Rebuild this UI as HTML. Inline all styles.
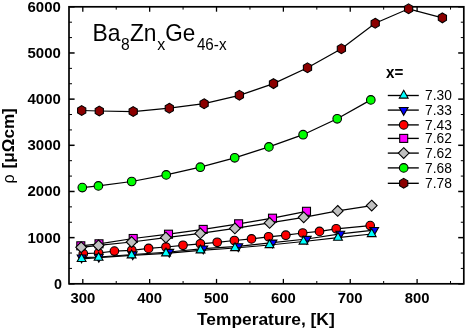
<!DOCTYPE html>
<html lang="en"><head><meta charset="utf-8"><title>Resistivity chart</title>
<style>html,body{margin:0;padding:0;background:#fff;}svg{display:block;}</style>
</head><body>
<svg width="466" height="330" viewBox="0 0 466 330" style="font-family:&quot;Liberation Sans&quot;,Arial,sans-serif">
<rect width="466" height="330" fill="#fff"/>
<g><line x1="69.0" y1="283.80" x2="74.6" y2="283.80" stroke="#000" stroke-width="1.5"/>
<line x1="463.8" y1="283.80" x2="458.2" y2="283.80" stroke="#000" stroke-width="1.5"/>
<line x1="69.0" y1="268.41" x2="72.0" y2="268.41" stroke="#000" stroke-width="1.0"/>
<line x1="463.8" y1="268.41" x2="460.8" y2="268.41" stroke="#000" stroke-width="1.0"/>
<line x1="69.0" y1="253.02" x2="72.0" y2="253.02" stroke="#000" stroke-width="1.0"/>
<line x1="463.8" y1="253.02" x2="460.8" y2="253.02" stroke="#000" stroke-width="1.0"/>
<line x1="69.0" y1="237.63" x2="74.6" y2="237.63" stroke="#000" stroke-width="1.5"/>
<line x1="463.8" y1="237.63" x2="458.2" y2="237.63" stroke="#000" stroke-width="1.5"/>
<line x1="69.0" y1="222.24" x2="72.0" y2="222.24" stroke="#000" stroke-width="1.0"/>
<line x1="463.8" y1="222.24" x2="460.8" y2="222.24" stroke="#000" stroke-width="1.0"/>
<line x1="69.0" y1="206.86" x2="72.0" y2="206.86" stroke="#000" stroke-width="1.0"/>
<line x1="463.8" y1="206.86" x2="460.8" y2="206.86" stroke="#000" stroke-width="1.0"/>
<line x1="69.0" y1="191.47" x2="74.6" y2="191.47" stroke="#000" stroke-width="1.5"/>
<line x1="463.8" y1="191.47" x2="458.2" y2="191.47" stroke="#000" stroke-width="1.5"/>
<line x1="69.0" y1="176.08" x2="72.0" y2="176.08" stroke="#000" stroke-width="1.0"/>
<line x1="463.8" y1="176.08" x2="460.8" y2="176.08" stroke="#000" stroke-width="1.0"/>
<line x1="69.0" y1="160.69" x2="72.0" y2="160.69" stroke="#000" stroke-width="1.0"/>
<line x1="463.8" y1="160.69" x2="460.8" y2="160.69" stroke="#000" stroke-width="1.0"/>
<line x1="69.0" y1="145.30" x2="74.6" y2="145.30" stroke="#000" stroke-width="1.5"/>
<line x1="463.8" y1="145.30" x2="458.2" y2="145.30" stroke="#000" stroke-width="1.5"/>
<line x1="69.0" y1="129.91" x2="72.0" y2="129.91" stroke="#000" stroke-width="1.0"/>
<line x1="463.8" y1="129.91" x2="460.8" y2="129.91" stroke="#000" stroke-width="1.0"/>
<line x1="69.0" y1="114.52" x2="72.0" y2="114.52" stroke="#000" stroke-width="1.0"/>
<line x1="463.8" y1="114.52" x2="460.8" y2="114.52" stroke="#000" stroke-width="1.0"/>
<line x1="69.0" y1="99.13" x2="74.6" y2="99.13" stroke="#000" stroke-width="1.5"/>
<line x1="463.8" y1="99.13" x2="458.2" y2="99.13" stroke="#000" stroke-width="1.5"/>
<line x1="69.0" y1="83.74" x2="72.0" y2="83.74" stroke="#000" stroke-width="1.0"/>
<line x1="463.8" y1="83.74" x2="460.8" y2="83.74" stroke="#000" stroke-width="1.0"/>
<line x1="69.0" y1="68.36" x2="72.0" y2="68.36" stroke="#000" stroke-width="1.0"/>
<line x1="463.8" y1="68.36" x2="460.8" y2="68.36" stroke="#000" stroke-width="1.0"/>
<line x1="69.0" y1="52.97" x2="74.6" y2="52.97" stroke="#000" stroke-width="1.5"/>
<line x1="463.8" y1="52.97" x2="458.2" y2="52.97" stroke="#000" stroke-width="1.5"/>
<line x1="69.0" y1="37.58" x2="72.0" y2="37.58" stroke="#000" stroke-width="1.0"/>
<line x1="463.8" y1="37.58" x2="460.8" y2="37.58" stroke="#000" stroke-width="1.0"/>
<line x1="69.0" y1="22.19" x2="72.0" y2="22.19" stroke="#000" stroke-width="1.0"/>
<line x1="463.8" y1="22.19" x2="460.8" y2="22.19" stroke="#000" stroke-width="1.0"/>
<line x1="69.0" y1="6.80" x2="74.6" y2="6.80" stroke="#000" stroke-width="1.5"/>
<line x1="463.8" y1="6.80" x2="458.2" y2="6.80" stroke="#000" stroke-width="1.5"/>
<line x1="82.80" y1="283.8" x2="82.80" y2="278.90000000000003" stroke="#000" stroke-width="1.3"/>
<line x1="82.80" y1="6.8" x2="82.80" y2="11.7" stroke="#000" stroke-width="1.3"/>
<line x1="116.23" y1="283.8" x2="116.23" y2="281.0" stroke="#000" stroke-width="1.0"/>
<line x1="116.23" y1="6.8" x2="116.23" y2="9.6" stroke="#000" stroke-width="1.0"/>
<line x1="149.66" y1="283.8" x2="149.66" y2="278.90000000000003" stroke="#000" stroke-width="1.3"/>
<line x1="149.66" y1="6.8" x2="149.66" y2="11.7" stroke="#000" stroke-width="1.3"/>
<line x1="183.09" y1="283.8" x2="183.09" y2="281.0" stroke="#000" stroke-width="1.0"/>
<line x1="183.09" y1="6.8" x2="183.09" y2="9.6" stroke="#000" stroke-width="1.0"/>
<line x1="216.52" y1="283.8" x2="216.52" y2="278.90000000000003" stroke="#000" stroke-width="1.3"/>
<line x1="216.52" y1="6.8" x2="216.52" y2="11.7" stroke="#000" stroke-width="1.3"/>
<line x1="249.95" y1="283.8" x2="249.95" y2="281.0" stroke="#000" stroke-width="1.0"/>
<line x1="249.95" y1="6.8" x2="249.95" y2="9.6" stroke="#000" stroke-width="1.0"/>
<line x1="283.38" y1="283.8" x2="283.38" y2="278.90000000000003" stroke="#000" stroke-width="1.3"/>
<line x1="283.38" y1="6.8" x2="283.38" y2="11.7" stroke="#000" stroke-width="1.3"/>
<line x1="316.81" y1="283.8" x2="316.81" y2="281.0" stroke="#000" stroke-width="1.0"/>
<line x1="316.81" y1="6.8" x2="316.81" y2="9.6" stroke="#000" stroke-width="1.0"/>
<line x1="350.24" y1="283.8" x2="350.24" y2="278.90000000000003" stroke="#000" stroke-width="1.3"/>
<line x1="350.24" y1="6.8" x2="350.24" y2="11.7" stroke="#000" stroke-width="1.3"/>
<line x1="383.67" y1="283.8" x2="383.67" y2="281.0" stroke="#000" stroke-width="1.0"/>
<line x1="383.67" y1="6.8" x2="383.67" y2="9.6" stroke="#000" stroke-width="1.0"/>
<line x1="417.10" y1="283.8" x2="417.10" y2="278.90000000000003" stroke="#000" stroke-width="1.3"/>
<line x1="417.10" y1="6.8" x2="417.10" y2="11.7" stroke="#000" stroke-width="1.3"/>
<line x1="450.53" y1="283.8" x2="450.53" y2="281.0" stroke="#000" stroke-width="1.0"/>
<line x1="450.53" y1="6.8" x2="450.53" y2="9.6" stroke="#000" stroke-width="1.0"/></g>
<rect x="69.0" y="6.8" width="394.8" height="277.0" fill="none" stroke="#000" stroke-width="1.7"/>
<polyline points="81.7,110.5 99.3,111.0 133.2,111.5 169.3,108.2 204.1,103.7 239.4,95.3 273.5,83.6 307.5,67.8 341.4,48.8 375.2,23.2 408.6,8.8 442.4,17.9" fill="none" stroke="#000" stroke-width="1.25"/>
<polygon points="81.7,105.6 85.8,108.0 85.8,113.0 81.7,115.4 77.6,113.0 77.6,108.0" fill="#8b0000" stroke="#000" stroke-width="1.1"/>
<polygon points="99.3,106.1 103.4,108.5 103.4,113.5 99.3,115.9 95.2,113.5 95.2,108.5" fill="#8b0000" stroke="#000" stroke-width="1.1"/>
<polygon points="133.2,106.6 137.3,109.0 137.3,114.0 133.2,116.4 129.1,114.0 129.1,109.0" fill="#8b0000" stroke="#000" stroke-width="1.1"/>
<polygon points="169.3,103.3 173.4,105.8 173.4,110.7 169.3,113.1 165.2,110.7 165.2,105.8" fill="#8b0000" stroke="#000" stroke-width="1.1"/>
<polygon points="204.1,98.8 208.2,101.2 208.2,106.2 204.1,108.6 200.0,106.2 200.0,101.2" fill="#8b0000" stroke="#000" stroke-width="1.1"/>
<polygon points="239.4,90.4 243.5,92.8 243.5,97.8 239.4,100.2 235.3,97.8 235.3,92.8" fill="#8b0000" stroke="#000" stroke-width="1.1"/>
<polygon points="273.5,78.7 277.6,81.1 277.6,86.0 273.5,88.5 269.4,86.0 269.4,81.1" fill="#8b0000" stroke="#000" stroke-width="1.1"/>
<polygon points="307.5,62.9 311.6,65.3 311.6,70.2 307.5,72.7 303.4,70.2 303.4,65.3" fill="#8b0000" stroke="#000" stroke-width="1.1"/>
<polygon points="341.4,43.9 345.5,46.3 345.5,51.2 341.4,53.7 337.3,51.2 337.3,46.3" fill="#8b0000" stroke="#000" stroke-width="1.1"/>
<polygon points="375.2,18.3 379.3,20.8 379.3,25.6 375.2,28.1 371.1,25.6 371.1,20.8" fill="#8b0000" stroke="#000" stroke-width="1.1"/>
<polygon points="408.6,3.9 412.7,6.4 412.7,11.2 408.6,13.7 404.5,11.2 404.5,6.4" fill="#8b0000" stroke="#000" stroke-width="1.1"/>
<polygon points="442.4,13.0 446.5,15.4 446.5,20.3 442.4,22.8 438.3,20.3 438.3,15.4" fill="#8b0000" stroke="#000" stroke-width="1.1"/>
<polyline points="82.3,187.6 98.4,185.9 131.7,181.5 166.2,174.9 200.3,167.2 234.7,157.8 268.9,146.9 303.1,134.7 337.2,118.8 370.8,99.9" fill="none" stroke="#000" stroke-width="1.25"/>
<circle cx="82.3" cy="187.6" r="4.3" fill="#00ff00" stroke="#000" stroke-width="1.1"/>
<circle cx="98.4" cy="185.9" r="4.3" fill="#00ff00" stroke="#000" stroke-width="1.1"/>
<circle cx="131.7" cy="181.5" r="4.3" fill="#00ff00" stroke="#000" stroke-width="1.1"/>
<circle cx="166.2" cy="174.9" r="4.3" fill="#00ff00" stroke="#000" stroke-width="1.1"/>
<circle cx="200.3" cy="167.2" r="4.3" fill="#00ff00" stroke="#000" stroke-width="1.1"/>
<circle cx="234.7" cy="157.8" r="4.3" fill="#00ff00" stroke="#000" stroke-width="1.1"/>
<circle cx="268.9" cy="146.9" r="4.3" fill="#00ff00" stroke="#000" stroke-width="1.1"/>
<circle cx="303.1" cy="134.7" r="4.3" fill="#00ff00" stroke="#000" stroke-width="1.1"/>
<circle cx="337.2" cy="118.8" r="4.3" fill="#00ff00" stroke="#000" stroke-width="1.1"/>
<circle cx="370.8" cy="99.9" r="4.3" fill="#00ff00" stroke="#000" stroke-width="1.1"/>
<polyline points="83.3,253.7 98.6,253.0 114.4,251.1 131.8,250.3 148.6,248.4 166.0,247.0 183.0,245.3 200.4,243.8 217.2,242.3 234.4,240.5 251.5,238.9 268.6,236.8 285.8,235.2 302.7,233.0 319.5,231.4 336.2,228.8 370.2,225.6" fill="none" stroke="#000" stroke-width="1.25"/>
<circle cx="83.3" cy="253.7" r="4.3" fill="#ff0000" stroke="#000" stroke-width="1.1"/>
<circle cx="98.6" cy="253.0" r="4.3" fill="#ff0000" stroke="#000" stroke-width="1.1"/>
<circle cx="114.4" cy="251.1" r="4.3" fill="#ff0000" stroke="#000" stroke-width="1.1"/>
<circle cx="131.8" cy="250.3" r="4.3" fill="#ff0000" stroke="#000" stroke-width="1.1"/>
<circle cx="148.6" cy="248.4" r="4.3" fill="#ff0000" stroke="#000" stroke-width="1.1"/>
<circle cx="166.0" cy="247.0" r="4.3" fill="#ff0000" stroke="#000" stroke-width="1.1"/>
<circle cx="183.0" cy="245.3" r="4.3" fill="#ff0000" stroke="#000" stroke-width="1.1"/>
<circle cx="200.4" cy="243.8" r="4.3" fill="#ff0000" stroke="#000" stroke-width="1.1"/>
<circle cx="217.2" cy="242.3" r="4.3" fill="#ff0000" stroke="#000" stroke-width="1.1"/>
<circle cx="234.4" cy="240.5" r="4.3" fill="#ff0000" stroke="#000" stroke-width="1.1"/>
<circle cx="251.5" cy="238.9" r="4.3" fill="#ff0000" stroke="#000" stroke-width="1.1"/>
<circle cx="268.6" cy="236.8" r="4.3" fill="#ff0000" stroke="#000" stroke-width="1.1"/>
<circle cx="285.8" cy="235.2" r="4.3" fill="#ff0000" stroke="#000" stroke-width="1.1"/>
<circle cx="302.7" cy="233.0" r="4.3" fill="#ff0000" stroke="#000" stroke-width="1.1"/>
<circle cx="319.5" cy="231.4" r="4.3" fill="#ff0000" stroke="#000" stroke-width="1.1"/>
<circle cx="336.2" cy="228.8" r="4.3" fill="#ff0000" stroke="#000" stroke-width="1.1"/>
<circle cx="370.2" cy="225.6" r="4.3" fill="#ff0000" stroke="#000" stroke-width="1.1"/>
<polyline points="81.6,257.6 98.8,257.0 132.7,254.5 169.3,252.0 203.3,248.6 238.3,246.4 272.5,242.7 306.8,239.0 340.3,233.8 374.2,230.1" fill="none" stroke="#000" stroke-width="1.25"/>
<polygon points="81.6,262.8 86.0,255.0 77.2,255.0" fill="#0000ff" stroke="#000" stroke-width="1.1"/>
<polygon points="98.8,262.2 103.2,254.4 94.4,254.4" fill="#0000ff" stroke="#000" stroke-width="1.1"/>
<polygon points="132.7,259.7 137.1,251.9 128.3,251.9" fill="#0000ff" stroke="#000" stroke-width="1.1"/>
<polygon points="169.3,257.2 173.7,249.4 164.9,249.4" fill="#0000ff" stroke="#000" stroke-width="1.1"/>
<polygon points="203.3,253.8 207.7,246.0 198.9,246.0" fill="#0000ff" stroke="#000" stroke-width="1.1"/>
<polygon points="238.3,251.6 242.7,243.8 233.9,243.8" fill="#0000ff" stroke="#000" stroke-width="1.1"/>
<polygon points="272.5,247.9 276.9,240.1 268.1,240.1" fill="#0000ff" stroke="#000" stroke-width="1.1"/>
<polygon points="306.8,244.2 311.2,236.4 302.4,236.4" fill="#0000ff" stroke="#000" stroke-width="1.1"/>
<polygon points="340.3,239.0 344.7,231.2 335.9,231.2" fill="#0000ff" stroke="#000" stroke-width="1.1"/>
<polygon points="374.2,235.3 378.6,227.5 369.8,227.5" fill="#0000ff" stroke="#000" stroke-width="1.1"/>
<polyline points="81.6,258.9 98.6,257.7 131.6,255.3 166.0,253.3 200.5,250.3 235.0,248.0 269.5,245.0 303.5,241.5 338.0,237.6 371.7,234.0" fill="none" stroke="#000" stroke-width="1.25"/>
<polygon points="81.6,253.7 86.0,261.5 77.2,261.5" fill="#00ffff" stroke="#000" stroke-width="1.1"/>
<polygon points="98.6,252.5 103.0,260.3 94.2,260.3" fill="#00ffff" stroke="#000" stroke-width="1.1"/>
<polygon points="131.6,250.1 136.0,257.9 127.2,257.9" fill="#00ffff" stroke="#000" stroke-width="1.1"/>
<polygon points="166.0,248.1 170.4,255.9 161.6,255.9" fill="#00ffff" stroke="#000" stroke-width="1.1"/>
<polygon points="200.5,245.1 204.9,252.9 196.1,252.9" fill="#00ffff" stroke="#000" stroke-width="1.1"/>
<polygon points="235.0,242.8 239.4,250.6 230.6,250.6" fill="#00ffff" stroke="#000" stroke-width="1.1"/>
<polygon points="269.5,239.8 273.9,247.6 265.1,247.6" fill="#00ffff" stroke="#000" stroke-width="1.1"/>
<polygon points="303.5,236.3 307.9,244.1 299.1,244.1" fill="#00ffff" stroke="#000" stroke-width="1.1"/>
<polygon points="338.0,232.4 342.4,240.2 333.6,240.2" fill="#00ffff" stroke="#000" stroke-width="1.1"/>
<polygon points="371.7,228.8 376.1,236.6 367.3,236.6" fill="#00ffff" stroke="#000" stroke-width="1.1"/>
<polyline points="80.8,245.8 99.0,243.8 133.2,238.5 168.5,234.2 203.2,229.4 238.6,223.8 272.5,218.2 306.5,211.3" fill="none" stroke="#000" stroke-width="1.25"/>
<rect x="76.8" y="241.8" width="8.0" height="8.0" fill="#ff00ff" stroke="#000" stroke-width="1.1"/>
<rect x="95.0" y="239.8" width="8.0" height="8.0" fill="#ff00ff" stroke="#000" stroke-width="1.1"/>
<rect x="129.2" y="234.5" width="8.0" height="8.0" fill="#ff00ff" stroke="#000" stroke-width="1.1"/>
<rect x="164.5" y="230.2" width="8.0" height="8.0" fill="#ff00ff" stroke="#000" stroke-width="1.1"/>
<rect x="199.2" y="225.4" width="8.0" height="8.0" fill="#ff00ff" stroke="#000" stroke-width="1.1"/>
<rect x="234.6" y="219.8" width="8.0" height="8.0" fill="#ff00ff" stroke="#000" stroke-width="1.1"/>
<rect x="268.5" y="214.2" width="8.0" height="8.0" fill="#ff00ff" stroke="#000" stroke-width="1.1"/>
<rect x="302.5" y="207.3" width="8.0" height="8.0" fill="#ff00ff" stroke="#000" stroke-width="1.1"/>
<polyline points="81.2,247.3 98.5,245.4 131.6,242.0 165.9,237.6 200.3,233.4 234.9,228.4 269.6,222.9 303.7,217.3 337.7,210.9 371.7,205.6" fill="none" stroke="#000" stroke-width="1.25"/>
<polygon points="81.2,241.9 86.6,247.3 81.2,252.7 75.8,247.3" fill="#c0c0c0" stroke="#000" stroke-width="1.1"/>
<polygon points="98.5,240.0 103.9,245.4 98.5,250.8 93.1,245.4" fill="#c0c0c0" stroke="#000" stroke-width="1.1"/>
<polygon points="131.6,236.6 137.0,242.0 131.6,247.4 126.2,242.0" fill="#c0c0c0" stroke="#000" stroke-width="1.1"/>
<polygon points="165.9,232.2 171.3,237.6 165.9,243.0 160.5,237.6" fill="#c0c0c0" stroke="#000" stroke-width="1.1"/>
<polygon points="200.3,228.0 205.7,233.4 200.3,238.8 194.9,233.4" fill="#c0c0c0" stroke="#000" stroke-width="1.1"/>
<polygon points="234.9,223.0 240.3,228.4 234.9,233.8 229.5,228.4" fill="#c0c0c0" stroke="#000" stroke-width="1.1"/>
<polygon points="269.6,217.5 275.0,222.9 269.6,228.3 264.2,222.9" fill="#c0c0c0" stroke="#000" stroke-width="1.1"/>
<polygon points="303.7,211.9 309.1,217.3 303.7,222.7 298.3,217.3" fill="#c0c0c0" stroke="#000" stroke-width="1.1"/>
<polygon points="337.7,205.5 343.1,210.9 337.7,216.3 332.3,210.9" fill="#c0c0c0" stroke="#000" stroke-width="1.1"/>
<polygon points="371.7,200.2 377.1,205.6 371.7,211.0 366.3,205.6" fill="#c0c0c0" stroke="#000" stroke-width="1.1"/>
<text x="54.0" y="288.7"  font-size="14.5" font-weight="bold" textLength="8.0" lengthAdjust="spacingAndGlyphs">0</text>
<text x="27.5" y="242.5"  font-size="14.5" font-weight="bold" textLength="33.3" lengthAdjust="spacingAndGlyphs">1000</text>
<text x="27.5" y="196.4"  font-size="14.5" font-weight="bold" textLength="33.3" lengthAdjust="spacingAndGlyphs">2000</text>
<text x="27.5" y="150.2"  font-size="14.5" font-weight="bold" textLength="33.3" lengthAdjust="spacingAndGlyphs">3000</text>
<text x="27.5" y="104.0"  font-size="14.5" font-weight="bold" textLength="33.3" lengthAdjust="spacingAndGlyphs">4000</text>
<text x="27.5" y="57.9"  font-size="14.5" font-weight="bold" textLength="33.3" lengthAdjust="spacingAndGlyphs">5000</text>
<text x="27.5" y="11.7"  font-size="14.5" font-weight="bold" textLength="33.3" lengthAdjust="spacingAndGlyphs">6000</text>
<text x="70.4" y="302.9"  font-size="14.5" font-weight="bold" textLength="24.8" lengthAdjust="spacingAndGlyphs">300</text>
<text x="137.3" y="302.9"  font-size="14.5" font-weight="bold" textLength="24.8" lengthAdjust="spacingAndGlyphs">400</text>
<text x="204.1" y="302.9"  font-size="14.5" font-weight="bold" textLength="24.8" lengthAdjust="spacingAndGlyphs">500</text>
<text x="271.0" y="302.9"  font-size="14.5" font-weight="bold" textLength="24.8" lengthAdjust="spacingAndGlyphs">600</text>
<text x="337.8" y="302.9"  font-size="14.5" font-weight="bold" textLength="24.8" lengthAdjust="spacingAndGlyphs">700</text>
<text x="404.7" y="302.9"  font-size="14.5" font-weight="bold" textLength="24.8" lengthAdjust="spacingAndGlyphs">800</text>
<text x="197.0" y="324.8"  font-size="16" font-weight="bold" textLength="137.7" lengthAdjust="spacingAndGlyphs">Temperature, [K]</text>
<text transform="translate(14.2,183.4) rotate(-90)"  font-size="16">ρ</text>
<text transform="translate(14.1,168.4) rotate(-90)"  font-size="16" font-weight="bold" textLength="60.2" lengthAdjust="spacingAndGlyphs">[μΩcm]</text>
<text x="92.5" y="41.4"  font-size="24" fill="#000" textLength="28.0" lengthAdjust="spacingAndGlyphs">Ba</text>
<text x="120.9" y="49.6"  font-size="16" fill="#000" textLength="8.7" lengthAdjust="spacingAndGlyphs">8</text>
<text x="129.9" y="41.4"  font-size="24" fill="#000" textLength="26.6" lengthAdjust="spacingAndGlyphs">Zn</text>
<text x="157.2" y="49.7"  font-size="16.5" fill="#000" textLength="8.0" lengthAdjust="spacingAndGlyphs">x</text>
<text x="165.3" y="41.4"  font-size="24" fill="#000" textLength="30.0" lengthAdjust="spacingAndGlyphs">Ge</text>
<text x="196.9" y="49.9"  font-size="16.5" fill="#000" textLength="29.6" lengthAdjust="spacingAndGlyphs">46-x</text>
<text x="386" y="78.1"  font-size="16" font-weight="bold" textLength="17.3" lengthAdjust="spacingAndGlyphs">x=</text>
<line x1="387.8" y1="95.5" x2="418.8" y2="95.5" stroke="#000" stroke-width="1.35"/>
<polygon points="403.7,90.3 408.1,98.1 399.3,98.1" fill="#00ffff" stroke="#000" stroke-width="1.1"/>
<text x="425.0" y="100.2"  font-size="14" fill="#000" textLength="26.8" lengthAdjust="spacingAndGlyphs">7.30</text>
<line x1="387.8" y1="110.1" x2="418.8" y2="110.1" stroke="#000" stroke-width="1.35"/>
<polygon points="403.7,115.3 408.1,107.5 399.3,107.5" fill="#0000ff" stroke="#000" stroke-width="1.1"/>
<text x="425.0" y="114.8"  font-size="14" fill="#000" textLength="26.8" lengthAdjust="spacingAndGlyphs">7.33</text>
<line x1="387.8" y1="124.9" x2="418.8" y2="124.9" stroke="#000" stroke-width="1.35"/>
<circle cx="403.7" cy="124.9" r="4.3" fill="#ff0000" stroke="#000" stroke-width="1.1"/>
<text x="425.0" y="129.6"  font-size="14" fill="#000" textLength="26.8" lengthAdjust="spacingAndGlyphs">7.43</text>
<line x1="387.8" y1="138.4" x2="418.8" y2="138.4" stroke="#000" stroke-width="1.35"/>
<rect x="399.7" y="134.4" width="8.0" height="8.0" fill="#ff00ff" stroke="#000" stroke-width="1.1"/>
<text x="425.0" y="143.1"  font-size="14" fill="#000" textLength="26.8" lengthAdjust="spacingAndGlyphs">7.62</text>
<line x1="387.8" y1="153.1" x2="418.8" y2="153.1" stroke="#000" stroke-width="1.35"/>
<polygon points="403.7,147.7 409.1,153.1 403.7,158.5 398.3,153.1" fill="#c0c0c0" stroke="#000" stroke-width="1.1"/>
<text x="425.0" y="157.8"  font-size="14" fill="#000" textLength="26.8" lengthAdjust="spacingAndGlyphs">7.62</text>
<line x1="387.8" y1="167.9" x2="418.8" y2="167.9" stroke="#000" stroke-width="1.35"/>
<circle cx="403.7" cy="167.9" r="4.3" fill="#00ff00" stroke="#000" stroke-width="1.1"/>
<text x="425.0" y="172.6"  font-size="14" fill="#000" textLength="26.8" lengthAdjust="spacingAndGlyphs">7.68</text>
<line x1="387.8" y1="183.3" x2="418.8" y2="183.3" stroke="#000" stroke-width="1.35"/>
<polygon points="403.7,178.4 407.8,180.9 407.8,185.8 403.7,188.2 399.6,185.8 399.6,180.9" fill="#8b0000" stroke="#000" stroke-width="1.1"/>
<text x="425.0" y="188.0"  font-size="14" fill="#000" textLength="26.8" lengthAdjust="spacingAndGlyphs">7.78</text>
</svg>
</body></html>
